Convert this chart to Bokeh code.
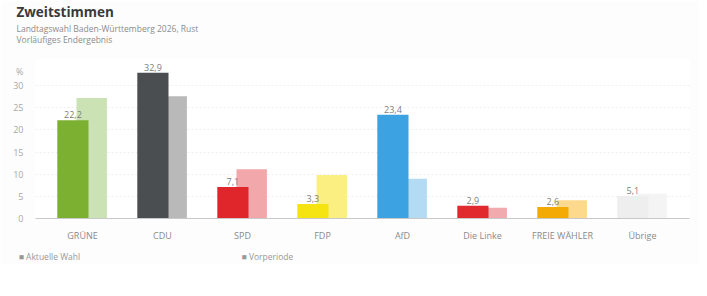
from bokeh.plotting import figure
from bokeh.models import Range1d, FixedTicker, Title, LinearAxis, ColumnDataSource
from bokeh.core.properties import value
from bokeh.embed import file_html
from bokeh.resources import INLINE

parties = ["GRÜNE", "CDU", "SPD", "FDP", "AfD", "Die Linke", "FREIE WÄHLER", "Übrige"]
current = [22.2, 32.9, 7.1, 3.3, 23.4, 2.9, 2.6, 5.1]
previous = [27.2, 27.6, 11.1, 9.8, 9.0, 2.4, 4.1, 5.6]
current_labels = ["22,2", "32,9", "7,1", "3,3", "23,4", "2,9", "2,6", "5,1"]
current_colors = ["#7cb030", "#4b4e51", "#e1262b", "#f6e312", "#3da2e2", "#e02a2e", "#f4aa05", "#eeeeee"]
previous_colors = ["#cbe3b4", "#b9b9b9", "#f2a7aa", "#fbef82", "#b3dbf3", "#f1aaad", "#fcd98c", "#f4f4f4"]
yticks = [0, 5, 10, 15, 20, 25, 30]
unit_tick = 33.2
unit_label = "%"
legend_labels = ["■  Aktuelle Wahl", "■  Vorperiode"]
legend_pos = [-0.40, 2.325]

FONT = "Open Sans"
BG = "#fdfdfd"
xs = list(range(len(parties)))

p = figure(frame_width=654, frame_height=159, output_backend="svg", toolbar_location=None,
           x_range=Range1d(-0.5875, 7.5875), y_range=Range1d(0, 35.9),
           title="Zweitstimmen",
           min_border_left=35, min_border_right=10, min_border_top=11, min_border_bottom=8)
p.background_fill_color = "#ffffff"
p.border_fill_color = BG
p.outline_line_color = None

src_prev = ColumnDataSource(dict(x=[x + 0.115 for x in xs], top=previous, color=previous_colors))
src_cur = ColumnDataSource(dict(x=[x - 0.12 for x in xs], top=current, color=current_colors,
                                lab=current_labels))
p.vbar(x="x", top="top", width=0.38, source=src_prev, fill_color="color", line_color=None)
p.vbar(x="x", top="top", width=0.39, source=src_cur, fill_color="color", line_color=None)
p.text(x="x", y="top", text="lab", source=src_cur, text_align="center", text_baseline="bottom",
       y_offset=-2, text_font=value(FONT), text_font_size="9px", text_color="#808080")

xa = p.xaxis[0]
xa.ticker = FixedTicker(ticks=xs)
xa.major_label_overrides = {i: n for i, n in enumerate(parties)}
xa.major_tick_line_color = None
xa.minor_tick_line_color = None
xa.axis_line_color = "#c8c8c8"
xa.major_label_text_font = FONT
xa.major_label_text_font_size = "9px"
xa.major_label_text_color = "#8a8a8a"
xa.major_label_standoff = 4

ya = p.yaxis[0]
ya.ticker = FixedTicker(ticks=yticks + [unit_tick])
ya.major_label_overrides = {unit_tick: unit_label}
ya.axis_line_color = None
ya.major_tick_line_color = None
ya.minor_tick_line_color = None
ya.major_label_text_font = FONT
ya.major_label_text_font_size = "9px"
ya.major_label_text_color = "#a8a8a8"
ya.major_label_standoff = 6

p.xgrid.grid_line_color = None
p.ygrid.ticker = FixedTicker(ticks=yticks)
p.ygrid.grid_line_color = "#eeeeee"
p.ygrid.grid_line_dash = "2 2"

def style_title(t, size, color, bold=False, standoff=0):
    t.align = "left"
    t.offset = -19
    t.text_font = FONT
    t.text_font_size = size
    t.text_color = color
    t.text_font_style = "bold" if bold else "normal"
    t.standoff = standoff

style_title(p.title, "13.5px", "#3a3a3a", bold=True, standoff=0)
# invisible spacer row (background-coloured) between subtitle block and the plot area
spacer = Title(text=".")
style_title(spacer, "8.5px", BG, standoff=6)
sub = Title(text="Landtagswahl Baden-Württemberg 2026, Rust\nVorläufiges Endergebnis")
style_title(sub, "8.5px", "#8c8c8c", standoff=0)
p.add_layout(spacer, "above")
p.add_layout(sub, "above")

# legend row drawn as a second, line-less axis below the category axis
leg_axis = LinearAxis(ticker=FixedTicker(ticks=legend_pos),
                      major_label_overrides=dict(zip(legend_pos, legend_labels)))
leg_axis.axis_line_color = None
leg_axis.major_tick_line_color = None
leg_axis.minor_tick_line_color = None
leg_axis.major_label_text_font = FONT
leg_axis.major_label_text_font_size = "8.5px"
leg_axis.major_label_text_color = "#999999"
leg_axis.major_label_standoff = 0
p.add_layout(leg_axis, "below")

open("out.html", "w").write(file_html(p, INLINE))
